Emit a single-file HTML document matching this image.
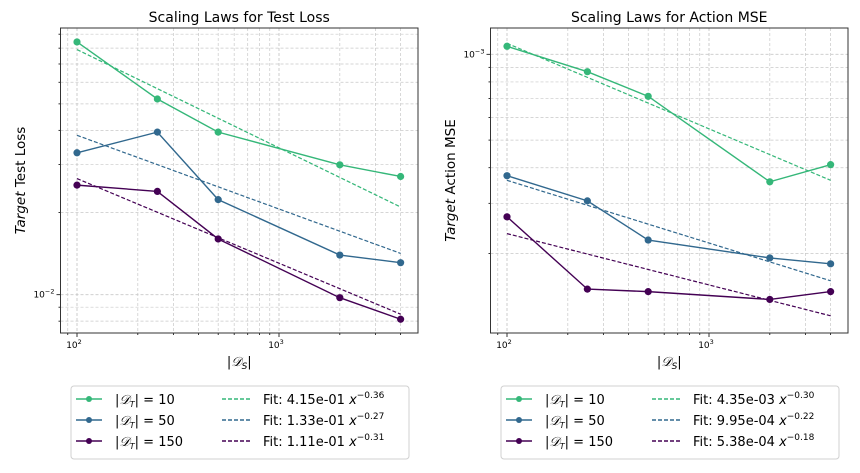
<!DOCTYPE html>
<html><head><meta charset="utf-8">
<style>
body{margin:0;background:#fff;width:860px;height:469px;overflow:hidden;font-family:"DejaVu Sans","Liberation Sans",sans-serif}
svg text{font-family:"DejaVu Sans","Liberation Sans",sans-serif}
</style></head>
<body>
<svg id="chart" width="860" height="469" xmlns="http://www.w3.org/2000/svg"></svg>
<script>
const xCats = [100, 250, 500, 2000, 4000];
const seriesNames = ["|D_T| = 10", "|D_T| = 50", "|D_T| = 150"];
const lossT10 = [0.0843, 0.0521, 0.0394, 0.0299, 0.0271];
const lossT50 = [0.0331, 0.0394, 0.0223, 0.01397, 0.0131];
const lossT150 = [0.0252, 0.0239, 0.0160, 0.00975, 0.00813];
const lossFitA = [0.415, 0.133, 0.111];
const lossFitB = [-0.36, -0.27, -0.31];
const mseT10 = [1.067e-3, 8.69e-4, 7.12e-4, 3.57e-4, 4.1e-4];
const mseT50 = [3.75e-4, 3.06e-4, 2.23e-4, 1.93e-4, 1.84e-4];
const mseT150 = [2.69e-4, 1.50e-4, 1.47e-4, 1.38e-4, 1.47e-4];
const mseFitA = [4.35e-3, 9.95e-4, 5.38e-4];
const mseFitB = [-0.30, -0.22, -0.18];
const lossFitLabels = ["4.15e-01", "1.33e-01", "1.11e-01"];
const lossFitExp = ["−0.36", "−0.27", "−0.31"];
const mseFitLabels = ["4.35e-03", "9.95e-04", "5.38e-04"];
const mseFitExp = ["−0.30", "−0.22", "−0.18"];
const colors = ["#35b779", "#31688e", "#440154"];
const tValues = ["10", "50", "150"];

const NS = "http://www.w3.org/2000/svg";
const svg = document.getElementById("chart");
function mk(tag, attrs, parent){const e=document.createElementNS(NS,tag);for(const k in attrs)e.setAttribute(k,attrs[k]);(parent||svg).appendChild(e);return e;}

function panel(ox, title, ylabel, data, fitA, fitB, yRef, yRefPx, decadePx, refLabel, fitLabels, fitExp, key){
  const g = mk("g",{});
  
  
  const L=ox+60.5, R=ox+418, T=28, B=333;
  const xs = v => ox+77 + 202*Math.log10(v/100);
  const ys = v => yRefPx - decadePx*Math.log10(v/yRef);
  // grid
  const grid = mk("g",{},g);
  
  
  for(let d=10; d<=10000; d*=10){
    for(let m=1;m<10;m++){
      const v=d*m, x=xs(v);
      if(x<L||x>R) continue;
      mk("line",{x1:x,x2:x,y1:T,y2:B,stroke:"#c8c8c8","stroke-width":m==1?0.9:0.7,"stroke-dasharray":"3,2"},grid);
      mk("line",{x1:x,x2:x,y1:B,y2:B+(m==1?4:2),stroke:"#000","stroke-width":0.8},g);
    }
  }
  for(let e=-6;e<=0;e++){
    const d=Math.pow(10,e);
    for(let m=1;m<10;m++){
      const v=d*m, y=ys(v);
      if(y<T||y>B) continue;
      mk("line",{x1:L,x2:R,y1:y,y2:y,stroke:"#c8c8c8","stroke-width":m==1?0.9:0.7,"stroke-dasharray":"3,2"},grid);
      mk("line",{x1:L-(m==1?4:2),x2:L,y1:y,y2:y,stroke:"#000","stroke-width":0.8},g);
    }
  }
  // x tick labels
  [[100,"2"],[1000,"3"]].forEach(([v,p])=>{
    const t=mk("text",{x:xs(v)-3,y:B+15,"font-size":"9","text-anchor":"middle"},g);
    
    
    t.innerHTML='10<tspan dy="-4" font-size="6.5">'+p+'</tspan>';
  });
  const yt=mk("text",{x:L-6,y:yRefPx+3,"font-size":"9","text-anchor":"end"},g);
  
  
  yt.innerHTML='10<tspan dy="-4" font-size="6.5">−'+refLabel+'</tspan>';
  // series
  data.forEach((arr,i)=>{
    const sg=mk("g",{},g);
    
    
    const xf0=xCats[0], xf1=xCats[xCats.length-1];
    const fl=mk("line",{x1:xs(xf0),y1:ys(fitA[i]*Math.pow(xf0,fitB[i])),x2:xs(xf1),y2:ys(fitA[i]*Math.pow(xf1,fitB[i])),stroke:colors[i],"stroke-width":1.2,"stroke-dasharray":"4,2"},sg);
    
    
    const pts=arr.map((v,j)=>xs(xCats[j])+","+ys(v)).join(" ");
    const pl=mk("polyline",{points:pts,fill:"none",stroke:colors[i],"stroke-width":1.4},sg);
    
    
    arr.forEach((v,j)=>{
      const c=mk("circle",{cx:xs(xCats[j]),cy:ys(v),r:3.6,fill:colors[i]},sg);
      
      
    });
  });
  const fr=mk("rect",{x:L,y:T,width:R-L,height:B-T,fill:"none",stroke:"#333","stroke-width":1},g);
  
  
  const tt=mk("text",{x:(L+R)/2,y:22,"font-size":"14","text-anchor":"middle"},g);
  
  
  tt.textContent=title;
  const xl=mk("text",{x:(L+R)/2,y:366,"font-size":"13","text-anchor":"middle","font-family":"Liberation Serif, serif"},g);
  
  
  xl.innerHTML='|<tspan font-style="italic">𝒟</tspan><tspan font-size="9" dy="3" font-style="italic">S</tspan><tspan dy="-3">|</tspan>';
  const yl=mk("text",{x:0,y:0,"font-size":"13.5","text-anchor":"middle",transform:"translate("+(ox+25)+","+((T+B)/2)+") rotate(-90)"},g);
  
  
  yl.innerHTML='<tspan font-style="italic">Target</tspan> '+ylabel;
  // legend
  const lg=mk("g",{},g);
  
  
  const lx=ox+71;
  mk("rect",{x:lx,y:386,width:338,height:73,rx:3,fill:"#fff",stroke:"#d0d0d0","stroke-width":1},lg);
  for(let i=0;i<3;i++){
    const y=399+21*i;
    const e=mk("g",{},lg);
    
    
    mk("line",{x1:lx+5,x2:lx+31,y1:y,y2:y,stroke:colors[i],"stroke-width":1.5},e);
    mk("circle",{cx:lx+18,cy:y,r:3,fill:colors[i]},e);
    const t=mk("text",{x:lx+44,y:y+5,"font-size":"13"},e);
    t.innerHTML='|<tspan font-style="italic" font-family="Liberation Serif, serif">𝒟</tspan><tspan font-size="8" dy="3" font-style="italic">T</tspan><tspan dy="-3">| = '+tValues[i]+'</tspan>';
    const f=mk("g",{},lg);
    
    
    mk("line",{x1:lx+151,x2:lx+179,y1:y,y2:y,stroke:colors[i],"stroke-width":1.5,"stroke-dasharray":"4,2"},f);
    const ft=mk("text",{x:lx+192,y:y+5,"font-size":"13"},f);
    ft.innerHTML='Fit: '+fitLabels[i]+' <tspan font-style="italic">x</tspan><tspan font-size="9" dy="-6">'+fitExp[i]+'</tspan>';
  }
}
panel(0,"Scaling Laws for Test Loss","Test Loss",[lossT10,lossT50,lossT150],lossFitA,lossFitB,0.01,294.7,273,"2",lossFitLabels,lossFitExp,"loss");
panel(430,"Scaling Laws for Action MSE","Action MSE",[mseT10,mseT50,mseT150],mseFitA,mseFitB,0.001,54.3,285,"3",mseFitLabels,mseFitExp,"mse");
</script>
</body></html>
